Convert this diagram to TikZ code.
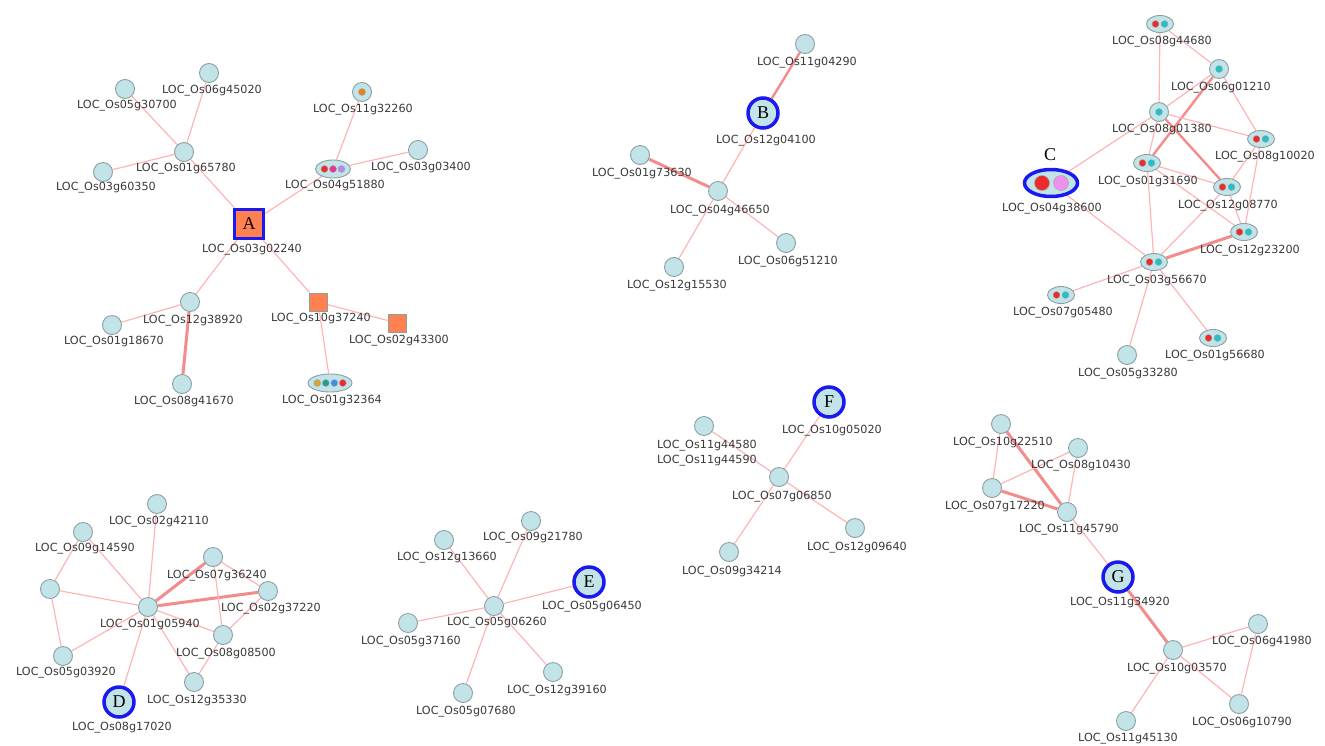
\documentclass[tikz,border=0pt]{standalone}
\usepackage{fontspec}
\usetikzlibrary{shapes.geometric}
\newfontfamily\lblfont{DejaVu Sans}
\newfontfamily\letfont{Liberation Serif}
\newcommand\locid[1]{LOC\_Os#1}
\definecolor{nodefill}{HTML}{C2E4E8}
\definecolor{nodeborder}{HTML}{8C9FA2}
\definecolor{edgec}{HTML}{FFB5B5}
\definecolor{edgethick}{HTML}{F48C8C}
\definecolor{hlblue}{HTML}{1A1AF0}
\definecolor{orangec}{HTML}{FF8152}
\definecolor{textc}{HTML}{3A3A3A}
\definecolor{dred}{HTML}{EE2A2A}
\definecolor{dcyan}{HTML}{22C1C8}
\definecolor{dmag}{HTML}{E8358F}
\definecolor{dpurp}{HTML}{B48AF0}
\definecolor{dorange}{HTML}{E8801E}
\definecolor{dgold}{HTML}{D4A534}
\definecolor{dteal}{HTML}{1FA092}
\definecolor{dblue}{HTML}{3E8FE3}
\definecolor{dviolet}{HTML}{EE90EE}
\pgfdeclarelayer{background}
\pgfsetlayers{background,main}
\begin{document}
\begin{tikzpicture}[x=1pt,y=-1pt,
  pn/.style={circle,draw=nodeborder,fill=nodefill,line width=0.9pt,minimum size=19pt,inner sep=0pt},
  hub/.style={circle,draw=hlblue,fill=nodefill,line width=3.5pt,minimum size=30pt,inner sep=0pt,font=\letfont\fontsize{18}{20}\selectfont},
  hubsq/.style={rectangle,draw=hlblue,fill=orangec,line width=3.5pt,minimum size=29pt,inner sep=0pt,font=\letfont\fontsize{18}{20}\selectfont},
  sq/.style={rectangle,draw=nodeborder,fill=orangec,line width=0.9pt,minimum size=18pt,inner sep=0pt},
  el2/.style={ellipse,draw=nodeborder,fill=nodefill,line width=0.9pt,minimum width=27pt,minimum height=17pt,inner sep=0pt},
  el3/.style={ellipse,draw=nodeborder,fill=nodefill,line width=0.9pt,minimum width=35pt,minimum height=18pt,inner sep=0pt},
  el4/.style={ellipse,draw=nodeborder,fill=nodefill,line width=0.9pt,minimum width=44pt,minimum height=18pt,inner sep=0pt},
  dot/.style={circle,draw=black!35,line width=0.4pt,minimum size=7pt,inner sep=0pt,fill=#1},
  bigdot/.style={circle,draw=black!35,line width=0.5pt,minimum size=15pt,inner sep=0pt,fill=#1},
  lbl/.style={inner sep=0pt,text=textc,font=\lblfont\fontsize{11.2}{15}\selectfont},
  lett/.style={inner sep=0pt,font=\letfont\fontsize{18}{20}\selectfont},
  ed/.style={draw=edgec,line width=1.2pt},
  ted/.style={draw=edgethick,line width=3pt}
]
\useasboundingbox (0,0) rectangle (1325,745);
\begin{pgfonlayer}{background}
\fill[white] (0,0) rectangle (1325,745);
\end{pgfonlayer}

% ---------------- Cluster A ----------------
\node[pn] (a0530700) at (125,89) {};
\node[lbl] (la0530700) at (127,106) {\locid{05g30700}};
\node[pn] (a0645020) at (209,73) {};
\node[lbl] (la0645020) at (212,91) {\locid{06g45020}};
\node[pn] (a0165780) at (184,152) {};
\node[lbl] (la0165780) at (186,169) {\locid{01g65780}};
\node[pn] (a0360350) at (103,172) {};
\node[lbl] (la0360350) at (106,188) {\locid{03g60350}};
\node[pn] (a1132260) at (362,92) {};
\node[dot=dorange] (a1132260d) at (362,92) {};
\node[lbl] (la1132260) at (363,110) {\locid{11g32260}};
\node[pn] (a0303400) at (418,150) {};
\node[lbl] (la0303400) at (421,168) {\locid{03g03400}};
\node[el3] (a0451880) at (333,169) {};
\node[dot=dred] (a0451880d1) at (324.5,169) {};
\node[dot=dmag] (a0451880d2) at (333,169) {};
\node[dot=dpurp] (a0451880d3) at (341.5,169) {};
\node[lbl] (la0451880) at (335,186) {\locid{04g51880}};
\node[hubsq] (A) at (249,224) {A};
\node[lbl] (lA) at (252,250) {\locid{03g02240}};
\node[pn] (a1238920) at (190,302) {};
\node[lbl] (la1238920) at (193,321) {\locid{12g38920}};
\node[pn] (a0118670) at (112,325) {};
\node[lbl] (la0118670) at (114,342) {\locid{01g18670}};
\node[pn] (a0841670) at (182,384) {};
\node[lbl] (la0841670) at (184,402) {\locid{08g41670}};
\node[sq] (a1037240) at (318,302) {};
\node[lbl] (la1037240) at (321,319) {\locid{10g37240}};
\node[sq] (a0243300) at (397,323) {};
\node[lbl] (la0243300) at (399,341) {\locid{02g43300}};
\node[el4] (a0132364) at (330,383) {};
\node[dot=dgold] (a0132364d1) at (317.3,383) {};
\node[dot=dteal] (a0132364d2) at (325.8,383) {};
\node[dot=dblue] (a0132364d3) at (334.3,383) {};
\node[dot=dred] (a0132364d4) at (342.8,383) {};
\node[lbl] (la0132364) at (332,401) {\locid{01g32364}};

\begin{pgfonlayer}{background}
\draw[ed] (a0530700) -- (a0165780);
\draw[ed] (a0645020) -- (a0165780);
\draw[ed] (a0360350) -- (a0165780);
\draw[ed] (a0165780) -- (A);
\draw[ed] (a1132260) -- (a0451880);
\draw[ed] (a0303400) -- (a0451880);
\draw[ed] (a0451880) -- (A);
\draw[ed] (A) -- (a1238920);
\draw[ed] (A) -- (a1037240);
\draw[ed] (a1238920) -- (a0118670);
\draw[ted] (a1238920) -- (a0841670);
\draw[ed] (a1037240) -- (a0243300);
\draw[ed] (a1037240) -- (a0132364);
\end{pgfonlayer}

% ---------------- Cluster B ----------------
\node[pn] (b1104290) at (805,44) {};
\node[lbl] (lb1104290) at (807,63) {\locid{11g04290}};
\node[hub] (B) at (763,113) {B};
\node[lbl] (lB) at (766,141) {\locid{12g04100}};
\node[pn] (b0173630) at (640,155) {};
\node[lbl] (lb0173630) at (642,174) {\locid{01g73630}};
\node[pn] (b0446650) at (718,191) {};
\node[lbl] (lb0446650) at (720,211) {\locid{04g46650}};
\node[pn] (b0651210) at (786,243) {};
\node[lbl] (lb0651210) at (788,262) {\locid{06g51210}};
\node[pn] (b1215530) at (674,267) {};
\node[lbl] (lb1215530) at (677,286) {\locid{12g15530}};
\begin{pgfonlayer}{background}
\draw[ted,line width=2.4pt] (b1104290) -- (B);
\draw[ed] (B) -- (b0446650);
\draw[ted] (b0173630) -- (b0446650);
\draw[ed] (b0446650) -- (b0651210);
\draw[ed] (b0446650) -- (b1215530);
\end{pgfonlayer}

% ---------------- Cluster C ----------------
\node[el2] (c0844680) at (1160,24) {};
\node[dot=dred] (c0844680d1) at (1155.5,24) {};
\node[dot=dcyan] (c0844680d2) at (1164.5,24) {};
\node[lbl] (lc0844680) at (1162,42) {\locid{08g44680}};
\node[pn] (c0601210) at (1219,69) {};
\node[dot=dcyan] (c0601210d) at (1219,69) {};
\node[lbl] (lc0601210) at (1221,88) {\locid{06g01210}};
\node[pn] (c0801380) at (1159,112) {};
\node[dot=dcyan] (c0801380d) at (1159,112) {};
\node[lbl] (lc0801380) at (1162,130) {\locid{08g01380}};
\node[el2] (c0810020) at (1261,139) {};
\node[dot=dred] (c0810020d1) at (1256.5,139) {};
\node[dot=dcyan] (c0810020d2) at (1265.5,139) {};
\node[lbl] (lc0810020) at (1265,157) {\locid{08g10020}};
\node[ellipse,draw=hlblue,fill=nodefill,line width=3.5pt,minimum width=53pt,minimum height=27pt,inner sep=0pt] (C) at (1051,183) {};
\node[bigdot=dred] (Cd1) at (1042,183) {};
\node[bigdot=dviolet] (Cd2) at (1061,183) {};
\node[lett] (lCletter) at (1050,155) {C};
\node[lbl] (lC) at (1052,209) {\locid{04g38600}};
\node[el2] (c0131690) at (1147,163) {};
\node[dot=dred] (c0131690d1) at (1142.5,163) {};
\node[dot=dcyan] (c0131690d2) at (1151.5,163) {};
\node[lbl] (lc0131690) at (1148,182) {\locid{01g31690}};
\node[el2] (c1208770) at (1227,187) {};
\node[dot=dred] (c1208770d1) at (1222.5,187) {};
\node[dot=dcyan] (c1208770d2) at (1231.5,187) {};
\node[lbl] (lc1208770) at (1228,206) {\locid{12g08770}};
\node[el2] (c1223200) at (1244,232) {};
\node[dot=dred] (c1223200d1) at (1239.5,232) {};
\node[dot=dcyan] (c1223200d2) at (1248.5,232) {};
\node[lbl] (lc1223200) at (1250,251) {\locid{12g23200}};
\node[el2] (c0356670) at (1154,262) {};
\node[dot=dred] (c0356670d1) at (1149.5,262) {};
\node[dot=dcyan] (c0356670d2) at (1158.5,262) {};
\node[lbl] (lc0356670) at (1157,281) {\locid{03g56670}};
\node[el2] (c0705480) at (1061,295) {};
\node[dot=dred] (c0705480d1) at (1056.5,295) {};
\node[dot=dcyan] (c0705480d2) at (1065.5,295) {};
\node[lbl] (lc0705480) at (1063,313) {\locid{07g05480}};
\node[el2] (c0156680) at (1213,338) {};
\node[dot=dred] (c0156680d1) at (1208.5,338) {};
\node[dot=dcyan] (c0156680d2) at (1217.5,338) {};
\node[lbl] (lc0156680) at (1215,356) {\locid{01g56680}};
\node[pn] (c0533280) at (1127,355) {};
\node[lbl] (lc0533280) at (1128,374) {\locid{05g33280}};
\begin{pgfonlayer}{background}
\draw[ed] (c0844680) -- (c0801380);
\draw[ed] (c0844680) -- (c0601210);
\draw[ed] (c0601210) -- (c0801380);
\draw[ed] (c0601210) -- (c0810020);
\draw[ted,line width=2.4pt] (c0601210) -- (c0131690);
\draw[ed] (c0801380) -- (C);
\draw[ed] (c0801380) -- (c0810020);
\draw[ted,line width=2.4pt] (c0801380) -- (c1208770);
\draw[ed] (c0801380) -- (c0131690);
\draw[ed] (c0810020) -- (c1208770);
\draw[ed] (c0810020) -- (c1223200);
\draw[ed] (c0131690) -- (c1208770);
\draw[ed] (c0131690) -- (c1223200);
\draw[ed] (c0131690) -- (c0356670);
\draw[ed] (c1208770) -- (c1223200);
\draw[ed] (c1208770) -- (c0356670);
\draw[ted] (c1223200) -- (c0356670);
\draw[ed] (C) -- (c0356670);
\draw[ed] (c0356670) -- (c0705480);
\draw[ed] (c0356670) -- (c0156680);
\draw[ed] (c0356670) -- (c0533280);
\end{pgfonlayer}

% ---------------- Cluster D ----------------
\node[pn] (d0242110) at (157,504) {};
\node[lbl] (ld0242110) at (159,522) {\locid{02g42110}};
\node[pn] (d0914590) at (83,532) {};
\node[lbl] (ld0914590) at (85,549) {\locid{09g14590}};
\node[pn] (d0736240) at (213,557) {};
\node[lbl] (ld0736240) at (217,576) {\locid{07g36240}};
\node[pn] (dunl) at (50,589) {};
\node[pn] (d0237220) at (268,591) {};
\node[lbl] (ld0237220) at (271,609) {\locid{02g37220}};
\node[pn] (d0105940) at (148,607) {};
\node[lbl] (ld0105940) at (150,625) {\locid{01g05940}};
\node[pn] (d0808500) at (223,635) {};
\node[lbl] (ld0808500) at (226,654) {\locid{08g08500}};
\node[pn] (d0503920) at (63,656) {};
\node[lbl] (ld0503920) at (66,673) {\locid{05g03920}};
\node[pn] (d1235330) at (194,682) {};
\node[lbl] (ld1235330) at (197,701) {\locid{12g35330}};
\node[hub] (D) at (119,702) {D};
\node[lbl] (lD) at (122,728) {\locid{08g17020}};
\begin{pgfonlayer}{background}
\draw[ed] (d0242110) -- (d0105940);
\draw[ed] (d0914590) -- (dunl);
\draw[ed] (d0914590) -- (d0105940);
\draw[ed] (dunl) -- (d0105940);
\draw[ed] (dunl) -- (d0503920);
\draw[ed] (d0503920) -- (d0105940);
\draw[ted] (d0736240) -- (d0105940);
\draw[ted] (d0237220) -- (d0105940);
\draw[ed] (d0736240) -- (d0237220);
\draw[ed] (d0736240) -- (d0808500);
\draw[ed] (d0237220) -- (d0808500);
\draw[ed] (d0105940) -- (d0808500);
\draw[ed] (d0105940) -- (d1235330);
\draw[ed] (d0808500) -- (d1235330);
\draw[ed] (d0105940) -- (D);
\end{pgfonlayer}

% ---------------- Cluster E ----------------
\node[pn] (e1213660) at (444,540) {};
\node[lbl] (le1213660) at (447,558) {\locid{12g13660}};
\node[pn] (e0921780) at (531,521) {};
\node[lbl] (le0921780) at (533,538) {\locid{09g21780}};
\node[hub] (E) at (589,582) {E};
\node[lbl] (lE) at (592,607) {\locid{05g06450}};
\node[pn] (e0506260) at (494,606) {};
\node[lbl] (le0506260) at (497,623) {\locid{05g06260}};
\node[pn] (e0537160) at (408,623) {};
\node[lbl] (le0537160) at (411,642) {\locid{05g37160}};
\node[pn] (e1239160) at (553,672) {};
\node[lbl] (le1239160) at (557,691) {\locid{12g39160}};
\node[pn] (e0507680) at (463,693) {};
\node[lbl] (le0507680) at (466,712) {\locid{05g07680}};
\begin{pgfonlayer}{background}
\draw[ed] (e1213660) -- (e0506260);
\draw[ed] (e0921780) -- (e0506260);
\draw[ed] (E) -- (e0506260);
\draw[ed] (e0537160) -- (e0506260);
\draw[ed] (e1239160) -- (e0506260);
\draw[ed] (e0507680) -- (e0506260);
\end{pgfonlayer}

% ---------------- Cluster F ----------------
\node[hub] (F) at (829,402) {F};
\node[lbl] (lF) at (832,431) {\locid{10g05020}};
\node[pn] (f1144580) at (704,426) {};
\node[lbl,align=center] (lf1144580) at (707,453) {\locid{11g44580}\\\locid{11g44590}};
\node[pn] (f0706850) at (779,477) {};
\node[lbl] (lf0706850) at (782,497) {\locid{07g06850}};
\node[pn] (f1209640) at (855,528) {};
\node[lbl] (lf1209640) at (857,548) {\locid{12g09640}};
\node[pn] (f0934214) at (729,552) {};
\node[lbl] (lf0934214) at (732,572) {\locid{09g34214}};
\begin{pgfonlayer}{background}
\draw[ed] (F) -- (f0706850);
\draw[ed] (f1144580) -- (f0706850);
\draw[ed] (f0706850) -- (f1209640);
\draw[ed] (f0706850) -- (f0934214);
\end{pgfonlayer}

% ---------------- Cluster G ----------------
\node[pn] (g1022510) at (1001,424) {};
\node[lbl] (lg1022510) at (1003,443) {\locid{10g22510}};
\node[pn] (g0810430) at (1078,448) {};
\node[lbl] (lg0810430) at (1081,466) {\locid{08g10430}};
\node[pn] (g0717220) at (992,488) {};
\node[lbl] (lg0717220) at (995,507) {\locid{07g17220}};
\node[pn] (g1145790) at (1067,512) {};
\node[lbl] (lg1145790) at (1069,530) {\locid{11g45790}};
\node[hub] (G) at (1118,577) {G};
\node[lbl] (lG) at (1120,603) {\locid{11g34920}};
\node[pn] (g1003570) at (1173,650) {};
\node[lbl] (lg1003570) at (1177,669) {\locid{10g03570}};
\node[pn] (g0641980) at (1258,624) {};
\node[lbl] (lg0641980) at (1262,642) {\locid{06g41980}};
\node[pn] (g0610790) at (1239,704) {};
\node[lbl] (lg0610790) at (1242,723) {\locid{06g10790}};
\node[pn] (g1145130) at (1126,721) {};
\node[lbl] (lg1145130) at (1128,739) {\locid{11g45130}};
\begin{pgfonlayer}{background}
\draw[ed] (g1022510) -- (g0717220);
\draw[ted] (g1022510) -- (g1145790);
\draw[ed] (g0717220) -- (g0810430);
\draw[ed] (g0810430) -- (g1145790);
\draw[ted] (g0717220) -- (g1145790);
\draw[ed] (g1145790) -- (G);
\draw[ted] (G) -- (g1003570);
\draw[ed] (g1003570) -- (g0641980);
\draw[ed] (g1003570) -- (g0610790);
\draw[ed] (g0641980) -- (g0610790);
\draw[ed] (g1003570) -- (g1145130);
\end{pgfonlayer}
\end{tikzpicture}
\end{document}
